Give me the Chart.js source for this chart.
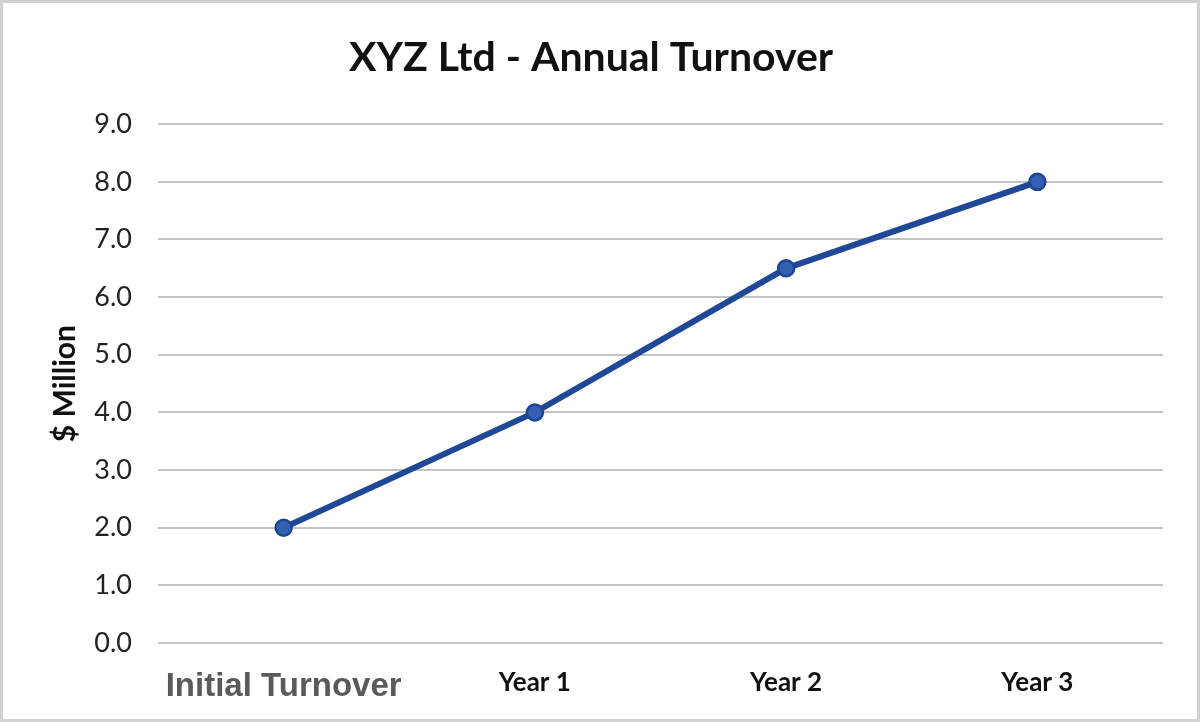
<!DOCTYPE html>
<html>
<head>
<meta charset="utf-8">
<script src="https://cdn.jsdelivr.net/npm/chart.js@4.4.0/dist/chart.umd.min.js"></script>
<style>
    html, body { margin: 0; padding: 0; background: #fff; }
    #wrap {
        width: 1200px; height: 722px; box-sizing: border-box;
        border: 3px solid #d2d2d2; background: #fff;
    }
    canvas { display: block; }
</style>
</head>
<body>
<div id="wrap"><canvas id="lineChart" width="1194" height="716"></canvas></div>
<script>
    const categories = ['Initial Turnover', 'Year 1', 'Year 2', 'Year 3'];
    const turnover = [2.0, 4.0, 6.5, 8.0];
    const yTicks = [0, 1, 2, 3, 4, 5, 6, 7, 8, 9];

    const ctx = document.getElementById('lineChart').getContext('2d');
    const lineChart = new Chart(ctx, {
        type: 'line',
        data: {
            labels: categories,
            datasets: [{
                label: 'Turnover',
                data: turnover,
                borderColor: '#1f4897',
                borderWidth: 6,
                pointRadius: 8,
                pointBackgroundColor: '#3360b2',
                pointBorderColor: '#1e4594',
                pointBorderWidth: 2.5,
                tension: 0
            }]
        },
        options: {
            responsive: false,
            animation: false,
            // left padding keeps the title centred like the original
            layout: { padding: { left: 16, right: 34, top: 0, bottom: 0 } },
            plugins: {
                legend: { display: false },
                tooltip: { enabled: false },
                title: {
                    display: true,
                    text: 'XYZ Ltd - Annual Turnover',
                    color: '#111',
                    font: { family: 'Lato', size: 41, weight: 'bold' },
                    padding: { top: 30, bottom: 42 }
                }
            },
            scales: {
                x: {
                    offset: true,
                    grid: { display: false },
                    border: { display: false },
                    ticks: {
                        padding: 16,
                        color: (c) => c.index === 0 ? '#5a5a5a' : '#111',
                        font: (c) => c.index === 0
                            ? { family: 'Liberation Sans', size: 33, weight: 'bold' }
                            : { family: 'Lato', size: 26, weight: 'bold' }
                    },
                    afterFit: (s) => { s.height = 76; }
                },
                y: {
                    min: 0,
                    max: 9,
                    afterBuildTicks: (s) => { s.ticks = yTicks.map(v => ({ value: v })); },
                    grid: { color: '#c4c4c4', lineWidth: 2, drawTicks: false },
                    border: { display: false },
                    ticks: {
                        padding: 26,
                        color: '#222',
                        font: { family: 'Lato', size: 27 },
                        callback: (v) => Number(v).toFixed(1)
                    },
                    title: {
                        display: true,
                        text: '$ Million',
                        color: '#111',
                        font: { family: 'Lato', size: 30, weight: 'bold' },
                        padding: { top: 28, bottom: 0 }
                    },
                    afterFit: (s) => { s.width = 139; }
                }
            }
        }
    });
</script>
</body>
</html>
